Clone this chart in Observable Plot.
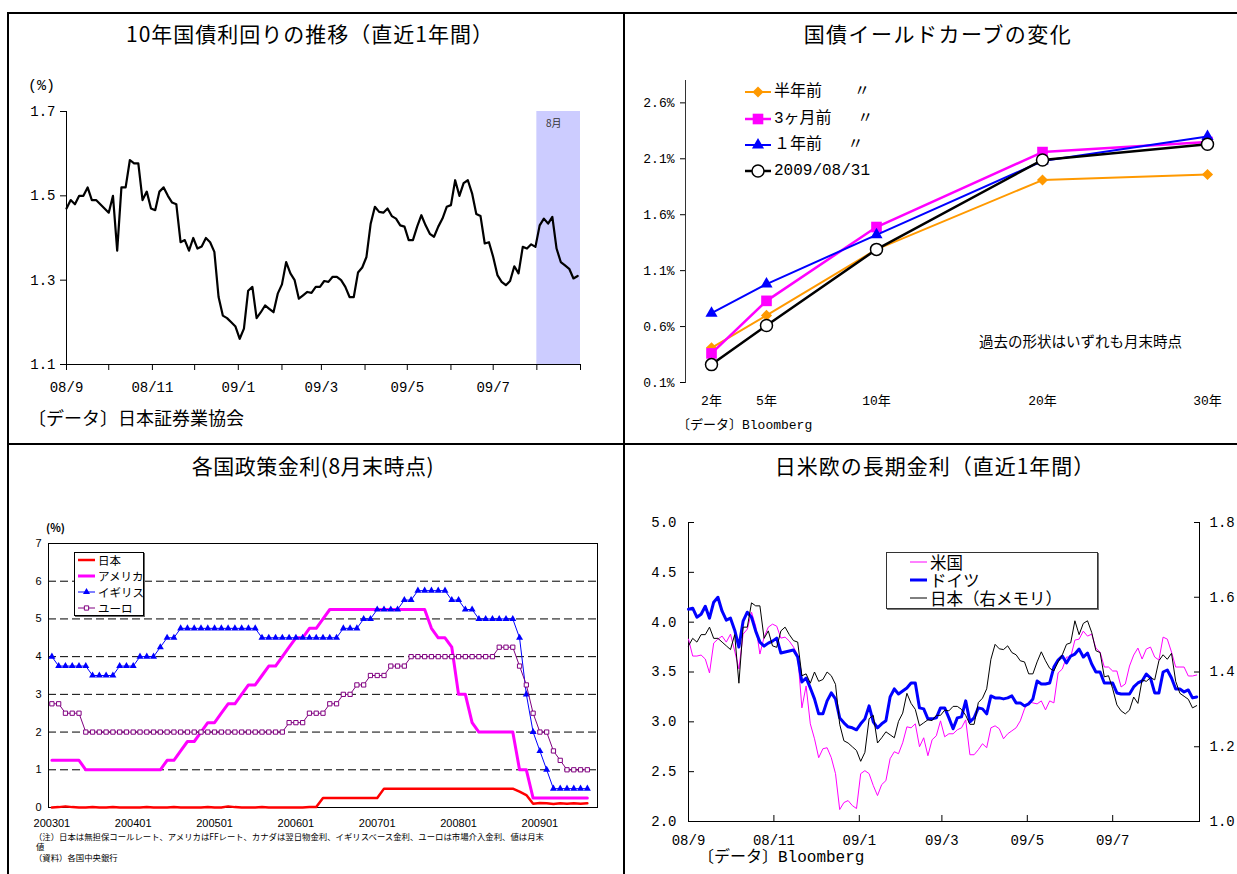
<!DOCTYPE html>
<html lang="ja">
<head>
<meta charset="utf-8">
<title>金利の動向</title>
<script src="https://cdn.jsdelivr.net/npm/d3@7"></script>
<script src="https://cdn.jsdelivr.net/npm/@observablehq/plot@0.6"></script>
<style>
html,body{margin:0;padding:0;background:#fff;}
#page{position:relative;width:1237px;height:874px;overflow:hidden;background:#fff;}
#page svg{position:absolute;}
</style>
</head>
<body>
<div id="page"></div>
<script>
// ================= DATA =================
// Panels 1 & 4: daily yields sampled every 3 days from 2008-09-01
const seriesStart = "2008-09-01";
const stepDays = 3;
const jgb10y = [
1.47,1.49,1.48,1.50,1.50,1.52,1.49,1.49,1.48,1.47,
1.46,1.50,1.37,1.52,1.52,1.585,1.577,1.577,1.49,1.51,
1.47,1.466,1.51,1.52,1.50,1.484,1.48,1.39,1.395,1.37,
1.40,1.375,1.38,1.40,1.39,1.367,1.26,1.216,1.21,1.20,
1.19,1.161,1.185,1.275,1.284,1.21,1.224,1.24,1.232,1.224,
1.268,1.29,1.343,1.316,1.30,1.256,1.264,1.272,1.27,1.284,
1.284,1.298,1.296,1.308,1.308,1.30,1.284,1.26,1.26,1.318,
1.33,1.355,1.434,1.474,1.462,1.46,1.47,1.452,1.446,1.43,
1.427,1.395,1.395,1.427,1.454,1.43,1.41,1.403,1.427,1.446,
1.474,1.478,1.537,1.50,1.53,1.537,1.506,1.457,1.452,1.387,
1.39,1.355,1.312,1.296,1.288,1.298,1.333,1.316,1.379,1.375,
1.385,1.379,1.43,1.446,1.434,1.45,1.375,1.343,1.335,1.327,
1.304,1.31];
const us10y = [
3.83,3.66,3.66,3.67,3.63,3.49,3.79,3.83,3.86,3.80,
3.88,3.71,3.53,3.88,3.93,4.10,3.96,3.68,3.85,3.95,
3.98,3.96,3.84,3.85,3.81,3.75,3.67,3.14,3.36,2.98,
2.83,2.64,2.73,2.74,2.64,2.48,2.12,2.19,2.21,2.16,
2.13,2.48,2.51,2.48,2.36,2.26,2.37,2.41,2.63,2.70,
2.68,2.79,2.95,2.94,2.98,2.75,2.84,2.66,2.82,2.86,
3.01,2.85,2.88,2.88,2.92,2.94,3.02,2.67,2.67,2.72,
2.78,2.74,2.94,2.96,2.93,2.83,2.88,2.91,2.94,3.01,
3.13,3.20,3.19,3.18,3.21,3.12,3.21,3.19,3.49,3.53,
3.65,3.65,3.82,3.83,3.91,3.86,3.88,3.74,3.70,3.55,
3.55,3.51,3.51,3.35,3.38,3.56,3.67,3.74,3.63,3.73,
3.75,3.65,3.62,3.85,3.83,3.70,3.55,3.55,3.55,3.46,
3.46,3.47];
const de10y = [
4.13,4.14,4.05,4.08,4.16,4.04,4.20,4.25,4.11,4.02,
4.04,3.92,3.75,4.01,4.10,4.05,3.91,3.80,3.76,3.79,
3.81,3.84,3.69,3.70,3.71,3.72,3.65,3.40,3.44,3.34,
3.23,3.08,3.08,3.21,3.29,3.23,3.04,2.99,2.95,2.94,
2.92,2.98,3.03,3.16,3.00,2.94,2.98,3.01,3.25,3.33,
3.28,3.31,3.34,3.39,3.39,3.14,3.13,3.03,3.03,3.04,
3.14,3.14,3.04,2.93,3.04,3.05,3.21,3.00,3.04,3.14,
3.13,3.08,3.26,3.24,3.24,3.23,3.24,3.26,3.19,3.19,
3.16,3.18,3.23,3.41,3.38,3.38,3.39,3.55,3.62,3.66,
3.59,3.66,3.68,3.73,3.65,3.69,3.58,3.50,3.50,3.39,
3.39,3.39,3.29,3.28,3.28,3.28,3.35,3.39,3.41,3.48,
3.44,3.29,3.29,3.50,3.52,3.44,3.33,3.33,3.30,3.32,
3.24,3.25];
const recentTickDates = ["2008-09-01","2008-11-01","2009-01-01","2009-03-01","2009-05-01","2009-07-01"];
const recentTickLabels = ["08/9","08/11","09/1","09/3","09/5","09/7"];
const jgbYTicks = [1.1, 1.3, 1.5, 1.7];
const shadeMonth = [{from: "2009-08-01", to: "2009-09-01", labelAt: "2009-08-13", label: "8月"}];
const longLeftTicks = [2.0, 2.5, 3.0, 3.5, 4.0, 4.5, 5.0];
const longRightTicks = [1.0, 1.2, 1.4, 1.6, 1.8];
const longNames = ["米国", "ドイツ", "日本（右メモリ）"];

// Panel 2: yield curve
const maturities = [2, 5, 10, 20, 30];
const maturityLabels = ["2年", "5年", "10年", "20年", "30年"];
const curveNames = ["半年前　　〃", "3ヶ月前　 〃", "１年前　 〃", "2009/08/31"];
const curveHalfYear = [0.41, 0.70, 1.29, 1.91, 1.96];
const curve3m       = [0.36, 0.83, 1.49, 2.16, 2.25];
const curve1y       = [0.72, 0.98, 1.42, 2.08, 2.30];
const curveNow      = [0.26, 0.61, 1.29, 2.09, 2.23];
const curveYTicks = [0.1, 0.6, 1.1, 1.6, 2.1, 2.6];

// Panel 3: monthly policy rates 2003-01 .. 2009-08
const policyNames = ["日本", "アメリカ", "イギリス", "ユーロ"];
const rateJapan = [
0,0.01,0.03,0.01,0,0,0.01,0,0,0.01,0,0,
0,0,0.01,0,0,0,0.01,0,0,0,0,0.01,
0,0,0.03,0.01,0,0,0,0.01,0,0,0,0,
0,0,0.01,0.01,0.25,0.25,0.25,0.25,0.25,0.25,0.25,0.25,
0.25,0.5,0.5,0.5,0.5,0.5,0.5,0.5,0.5,0.5,0.5,0.5,
0.5,0.5,0.5,0.5,0.5,0.5,0.5,0.5,0.5,0.42,0.33,0.10,
0.12,0.11,0.09,0.11,0.10,0.11,0.10,0.11];
const rateUS = [
1.25,1.25,1.25,1.25,1.25,1,1,1,1,1,1,1,
1,1,1,1,1,1.25,1.25,1.5,1.75,1.75,2,2.25,
2.25,2.5,2.75,2.75,3,3.25,3.25,3.5,3.75,3.75,4,4.25,
4.5,4.5,4.75,4.75,5,5.25,5.25,5.25,5.25,5.25,5.25,5.25,
5.25,5.25,5.25,5.25,5.25,5.25,5.25,5.25,4.75,4.5,4.5,4.25,
3,3,2.25,2,2,2,2,2,2,1,1,0.25,
0.25,0.25,0.25,0.25,0.25,0.25,0.25,0.25];
const rateUK = [
4,3.75,3.75,3.75,3.75,3.75,3.5,3.5,3.5,3.5,3.75,3.75,
3.75,4,4,4,4.25,4.5,4.5,4.75,4.75,4.75,4.75,4.75,
4.75,4.75,4.75,4.75,4.75,4.75,4.75,4.5,4.5,4.5,4.5,4.5,
4.5,4.5,4.5,4.5,4.5,4.5,4.5,4.75,4.75,4.75,5,5,
5.25,5.25,5.25,5.25,5.5,5.5,5.75,5.75,5.75,5.75,5.75,5.5,
5.5,5.25,5.25,5,5,5,5,5,5,4.5,3,2,
1.5,1,0.5,0.5,0.5,0.5,0.5,0.5];
const rateEuro = [
2.75,2.75,2.5,2.5,2.5,2,2,2,2,2,2,2,
2,2,2,2,2,2,2,2,2,2,2,2,
2,2,2,2,2,2,2,2,2,2,2,2.25,
2.25,2.25,2.5,2.5,2.5,2.75,2.75,3,3,3.25,3.25,3.5,
3.5,3.5,3.75,3.75,3.75,4,4,4,4,4,4,4,
4,4,4,4,4,4,4.25,4.25,4.25,3.75,3.25,2.5,
2,2,1.5,1.25,1,1,1,1];
const policyStartYear = 2003;
const policyTickLabels = ["200301","200401","200501","200601","200701","200801","200901"];
const policyYTicks = [0, 1, 2, 3, 4, 5, 6, 7];
const policyGrid = [1, 2, 3, 4, 5, 6];

// ================= HELPERS =================
const MONO = '"Liberation Mono","Noto Sans CJK JP",monospace';
const JP = '"Noto Sans CJK JP",sans-serif';
const SANS = '"Liberation Sans","Noto Sans CJK JP",sans-serif';
const page = document.getElementById("page");

function put(svg, left, top) { svg.style.left = left + "px"; svg.style.top = top + "px"; page.appendChild(svg); }
function label(str, x, y, size, family, opts = {}) {
  const d = document.createElement("div");
  d.textContent = str;
  const tx = opts.anchor === "middle" ? "-50%" : opts.anchor === "end" ? "-100%" : "0";
  d.style.cssText = `position:absolute;left:${x}px;top:${y}px;white-space:pre;line-height:1;font-size:${size}px;font-family:${family};color:${opts.color || "#000"};font-weight:${opts.weight || "normal"};letter-spacing:${opts.ls || 0}px;transform:translate(${tx},-50%);`;
  page.appendChild(d);
  return d;
}
function box(x, y, w, h, css) {
  const d = document.createElement("div");
  d.style.cssText = `position:absolute;left:${x}px;top:${y}px;width:${w}px;height:${h}px;box-sizing:border-box;${css}`;
  page.appendChild(d);
  return d;
}
const symbolTypes = {diamond2: d3.symbolDiamond2, square: d3.symbolSquare, triangle: d3.symbolTriangle, circle: d3.symbolCircle};
function swatch(x, y, w, sty) {
  const svg = d3.create("svg").attr("width", w).attr("height", 16)
    .style("left", x + "px").style("top", (y - 8) + "px").style("overflow", "visible");
  svg.append("line").attr("x1", 0).attr("x2", w).attr("y1", 8).attr("y2", 8)
    .attr("stroke", sty.stroke).attr("stroke-width", sty.strokeWidth);
  if (sty.symbol) svg.append("path")
    .attr("d", d3.symbol(symbolTypes[sty.symbol], Math.PI * sty.r * sty.r)())
    .attr("transform", `translate(${w / 2},8)`)
    .attr("fill", sty.fill).attr("stroke", sty.dotStroke || "none").attr("stroke-width", sty.dotStrokeWidth || 1.5);
  page.appendChild(svg.node());
}
function legendRow(x, y, w, sty, text, size, family) {
  swatch(x, y, w, sty);
  label(text, x + w + 3, y, size, family);
}
const baseStyle = (family, size) => ({background: "transparent", fontFamily: family, fontSize: size + "px", color: "#000", overflow: "visible"});

// ================= PANEL 1 =================
const seriesDates = jgb10y.map((_, i) => d3.utcDay.offset(new Date(seriesStart), i * stepDays));
const yearStart = new Date(recentTickDates[0]);
const yearEnd = d3.utcYear.offset(yearStart, 1);
const monthTicks = d3.utcMonth.range(yearStart, d3.utcDay.offset(yearEnd, 1));
const fmtISO = d3.utcFormat("%Y-%m-%d");
const monthLabel = d => { const k = recentTickDates.indexOf(fmtISO(d)); return k < 0 ? "" : recentTickLabels[k]; };
const jgbRows = jgb10y.map((v, i) => ({date: seriesDates[i], value: v}));

const p1 = Plot.plot({
  width: 620, height: 370, marginLeft: 66, marginRight: 40, marginTop: 51, marginBottom: 66,
  style: baseStyle(MONO, 14),
  x: {type: "utc", domain: [yearStart, yearEnd], label: null},
  y: {domain: [1.1, 1.7], label: null},
  marks: [
    Plot.rect(shadeMonth, {x1: d => new Date(d.from), x2: d => new Date(d.to), y1: 1.1, y2: 1.7, fill: "#CCCCFF"}),
    Plot.text(shadeMonth, {x: d => new Date(d.labelAt), y: 1.67, text: "label", fontSize: 10, fill: "#333", fontFamily: JP}),
    Plot.ruleX([yearStart], {stroke: "#000"}),
    Plot.ruleY([1.1], {stroke: "#000"}),
    Plot.axisX({ticks: monthTicks, tickSize: 6, tickPadding: 12, tickFormat: monthLabel, fontSize: 14, label: null}),
    Plot.axisY({ticks: jgbYTicks, tickSize: 6, tickPadding: 5, tickFormat: d => d.toFixed(1), fontSize: 14, label: null}),
    Plot.lineY(jgbRows, {x: "date", y: "value", stroke: "#000", strokeWidth: 2.2, strokeLinejoin: "round"})
  ]
});
put(p1, 0, 60);

// ================= PANEL 2 =================
const curveStyles = [
  {stroke: "#FF9900", strokeWidth: 2, symbol: "diamond2", r: 5, fill: "#FF9900", dotStroke: "none"},
  {stroke: "#FF00FF", strokeWidth: 2.5, symbol: "square", r: 6, fill: "#FF00FF", dotStroke: "none"},
  {stroke: "#0000FF", strokeWidth: 2, symbol: "triangle", r: 4.5, fill: "#0000FF", dotStroke: "none"},
  {stroke: "#000000", strokeWidth: 2.5, symbol: "circle", r: 6, fill: "#FFFFFF", dotStroke: "#000000"}
];
const curveValues = [curveHalfYear, curve3m, curve1y, curveNow];
const curveMarks = curveValues.flatMap((vals, k) => {
  const rows = vals.map((v, j) => ({m: maturities[j], v}));
  const s = curveStyles[k];
  return [
    Plot.line(rows, {x: "m", y: "v", stroke: s.stroke, strokeWidth: s.strokeWidth}),
    Plot.dot(rows, {x: "m", y: "v", symbol: s.symbol, r: s.r, fill: s.fill, stroke: s.dotStroke, strokeWidth: 1.5})
  ];
});
const p2 = Plot.plot({
  width: 607, height: 375, marginLeft: 55, marginRight: 20, marginTop: 20, marginBottom: 53,
  style: baseStyle(MONO, 13),
  x: {type: "linear", domain: maturities, range: [81, 136, 246, 412, 577], label: null},
  y: {domain: [0.1, 2.8], label: null},
  marks: [
    Plot.frame({anchor: "left", stroke: "#333"}),
    Plot.axisY({ticks: curveYTicks, tickSize: 5, tickPadding: 6, tickFormat: d => d.toFixed(1) + "%", fontSize: 13, label: null}),
    Plot.axisX({ticks: maturities, tickSize: 0, tickPadding: 13, tickFormat: d => maturityLabels[maturities.indexOf(d)], fontSize: 13, label: null}),
    ...curveMarks
  ]
});
put(p2, 630, 60);

// ================= PANEL 3 =================
const policyRows = v => v.map((y, i) => ({i, y}));
const policyTickIdx = policyTickLabels.map(s => (+s.slice(0, 4) - policyStartYear) * 12 + (+s.slice(4) - 1));
const p3 = Plot.plot({
  width: 620, height: 330, marginLeft: 48, marginRight: 23, marginTop: 28, marginBottom: 38,
  style: baseStyle(SANS, 11),
  x: {domain: [-0.5, rateUS.length + 0.5], label: null},
  y: {domain: [0, 7], label: null},
  marks: [
    Plot.ruleY(policyGrid, {stroke: "#000", strokeDasharray: "8,4"}),
    Plot.frame({stroke: "#000"}),
    Plot.axisY({ticks: policyYTicks, tickSize: 0, tickPadding: 7, tickFormat: d => String(d), fontSize: 11, label: null}),
    Plot.axisX({ticks: policyTickIdx, tickSize: 0, tickPadding: 12, tickFormat: d => policyTickLabels[policyTickIdx.indexOf(d)], fontSize: 11, label: null}),
    Plot.line(policyRows(rateJapan), {x: "i", y: "y", stroke: "#FF0000", strokeWidth: 2.5}),
    Plot.line(policyRows(rateUS), {x: "i", y: "y", stroke: "#FF00FF", strokeWidth: 3}),
    Plot.line(policyRows(rateUK), {x: "i", y: "y", stroke: "#0000FF", strokeWidth: 1}),
    Plot.dot(policyRows(rateUK), {x: "i", y: "y", symbol: "triangle", r: 2.6, fill: "#0000FF"}),
    Plot.line(policyRows(rateEuro), {x: "i", y: "y", stroke: "#800080", strokeWidth: 1}),
    Plot.dot(policyRows(rateEuro), {x: "i", y: "y", symbol: "square", r: 2.4, fill: "#FFFFFF", stroke: "#800080", strokeWidth: 1})
  ]
});
put(p3, 0, 515);

// ================= PANEL 4 =================
const jpToLeft = v => 2 + (v - 1.0) * 3 / 0.8;
const leftToJp = y => 1.0 + (y - 2) * 0.8 / 3;
const bimonthTicks = recentTickDates.map(d => new Date(d));
const usRows = us10y.map((v, i) => ({date: seriesDates[i], value: v}));
const deRows = de10y.map((v, i) => ({date: seriesDates[i], value: v}));
const jpRows = jgb10y.map((v, i) => ({date: seriesDates[i], value: jpToLeft(v)}));
const rightPos = longRightTicks.map(jpToLeft);
const p4 = Plot.plot({
  width: 607, height: 350, marginLeft: 58, marginRight: 38, marginTop: 17, marginBottom: 34,
  style: baseStyle(MONO, 14),
  x: {type: "utc", domain: [yearStart, yearEnd], label: null},
  y: {domain: [2, 5], label: null},
  marks: [
    Plot.ruleX([yearStart, yearEnd], {stroke: "#000"}),
    Plot.ruleY([2], {stroke: "#000"}),
    Plot.axisX({ticks: bimonthTicks, tickSize: -6, tickFormat: () => "", label: null}),
    Plot.axisX({ticks: bimonthTicks, tickSize: 0, tickPadding: 14, tickFormat: monthLabel, fontSize: 14, label: null}),
    Plot.axisY({ticks: longLeftTicks, anchor: "left", tickSize: -6, tickFormat: () => "", label: null}),
    Plot.axisY({ticks: longLeftTicks, anchor: "left", tickSize: 0, tickPadding: 12, tickFormat: d => d.toFixed(1), fontSize: 14, label: null}),
    Plot.axisY({ticks: rightPos, anchor: "right", tickSize: -6, tickFormat: () => "", label: null}),
    Plot.axisY({ticks: rightPos, anchor: "right", tickSize: 0, tickPadding: 10, tickFormat: d => leftToJp(d).toFixed(1), fontSize: 14, label: null}),
    Plot.lineY(usRows, {x: "date", y: "value", stroke: "#FF00FF", strokeWidth: 1}),
    Plot.lineY(deRows, {x: "date", y: "value", stroke: "#0000FF", strokeWidth: 3, strokeLinejoin: "round"}),
    Plot.lineY(jpRows, {x: "date", y: "value", stroke: "#000000", strokeWidth: 1})
  ]
});
put(p4, 630, 505);

// ================= FRAME LINES =================
box(7, 12, 1230, 2, "background:#000");
box(7, 12, 2, 862, "background:#000");
box(623, 12, 2, 862, "background:#000");
box(7, 443, 1230, 2, "background:#000");

// ================= TEXTS =================
label("10年国債利回りの推移（直近1年間）", 310, 33, 21, JP, {anchor: "middle", ls: 1});
label("国債イールドカーブの変化", 938, 33, 21, JP, {anchor: "middle", ls: 1.5});
label("各国政策金利(8月末時点)", 313, 465, 21, JP, {anchor: "middle", ls: 0.5});
label("日米欧の長期金利（直近1年間）", 935, 465, 21, JP, {anchor: "middle", ls: 1});

label("(%)", 28, 86, 15, MONO);
label("〔データ〕日本証券業協会", 28, 417, 18, JP);

label("過去の形状はいずれも月末時点", 979, 341, 14.5, JP);
label("〔データ〕Bloomberg", 677, 425, 13, MONO);

label("(%)", 46, 527, 11, JP, {weight: "bold"});
label("（注）日本は無担保コールレート、アメリカはFFレート、カナダは翌日物金利、イギリスベース金利、ユーロは市場介入金利、値は月末", 34, 836, 8.4, JP);
label("値", 36, 846, 8.4, JP);
label("（資料）各国中央銀行", 34, 857, 8.4, JP);

label("〔データ〕Bloomberg", 698, 858, 16, MONO);

// ================= LEGENDS =================
const curveLegendY = [92, 119, 145, 171];
curveNames.forEach((n, k) => legendRow(745, curveLegendY[k], 26, curveStyles[k], n, 16, MONO));

box(74, 552, 70, 64, "background:#fff;border:1px solid #000;box-shadow:1px 1px 0 #666");
const policyStyles = [
  {stroke: "#FF0000", strokeWidth: 2.5},
  {stroke: "#FF00FF", strokeWidth: 3},
  {stroke: "#0000FF", strokeWidth: 1, symbol: "triangle", r: 2.6, fill: "#0000FF"},
  {stroke: "#800080", strokeWidth: 1, symbol: "square", r: 2.4, fill: "#FFFFFF", dotStroke: "#800080", dotStrokeWidth: 1}
];
const policyLegendY = [560, 576, 592, 608];
policyNames.forEach((n, k) => swatch(78, policyLegendY[k], 17, policyStyles[k]));
{
  const d = document.createElement("div");
  d.textContent = policyNames.join("\n");
  d.style.cssText = `position:absolute;left:98px;top:${policyLegendY[0] - 8}px;white-space:pre;line-height:16px;font-size:11.5px;font-family:${JP};color:#000;`;
  page.appendChild(d);
}

box(886, 552, 212, 57, "background:#fff;border:1.5px solid #333;box-shadow:1px 1px 0 #777");
const longStyles = [
  {stroke: "#FF00FF", strokeWidth: 1},
  {stroke: "#0000FF", strokeWidth: 3},
  {stroke: "#000000", strokeWidth: 1}
];
const longLegendY = [562, 580, 598];
longNames.forEach((n, k) => swatch(910, longLegendY[k], 17, longStyles[k]));
{
  const d = document.createElement("div");
  d.textContent = longNames.join("\n");
  d.style.cssText = `position:absolute;left:930px;top:${longLegendY[0] - 9}px;white-space:pre;line-height:18px;font-size:16.5px;font-family:${JP};color:#000;`;
  page.appendChild(d);
}
</script>
</body>
</html>
